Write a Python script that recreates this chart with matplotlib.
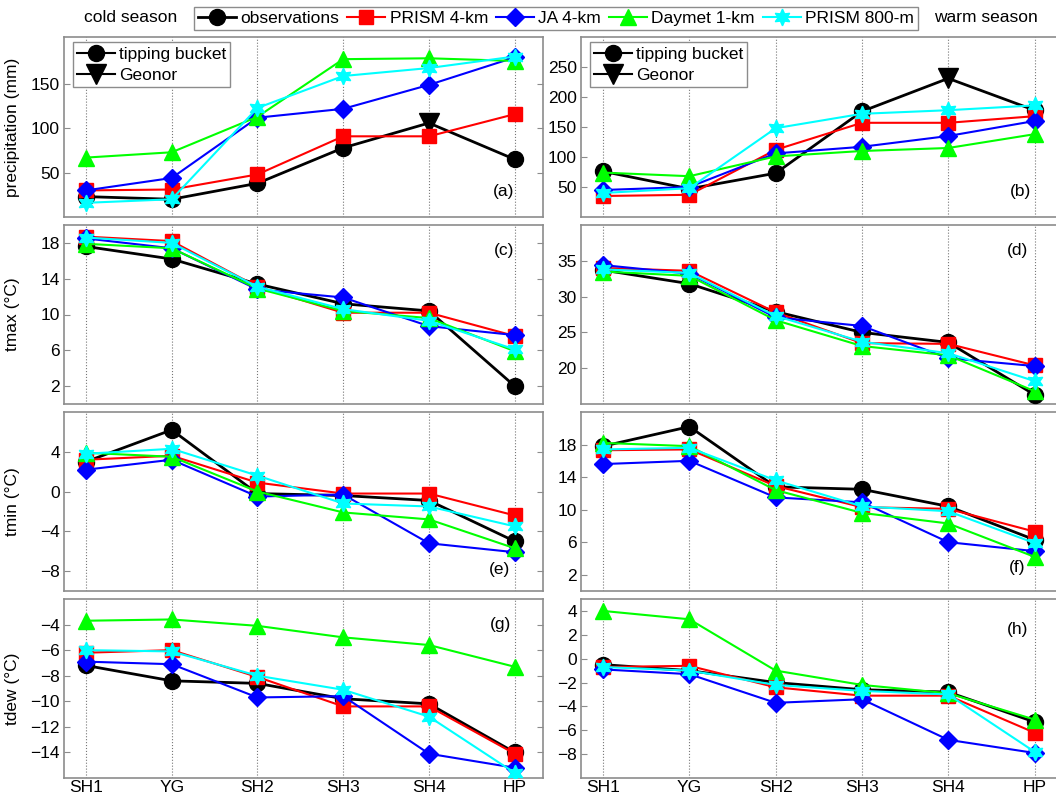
import matplotlib
matplotlib.use('Agg')
import matplotlib.pyplot as plt
from matplotlib.lines import Line2D
import numpy as np

plt.rcParams['font.family'] = ['Liberation Sans', 'DejaVu Sans']

# ---------------- data ----------------
stations = ["SH1", "YG", "SH2", "SH3", "SH4", "HP"]
series_names = ["observations", "PRISM 4-km", "JA 4-km", "Daymet 1-km", "PRISM 800-m"]
precip_gauge = ["tipping bucket", "tipping bucket", "tipping bucket",
                "tipping bucket", "Geonor", "tipping bucket"]

# cold season
cold_precip_obs = [23, 20, 38, 78, 106, 65]
cold_precip_prism4 = [30, 31, 48, 91, 91, 116]
cold_precip_ja = [30, 44, 112, 122, 149, 180]
cold_precip_daymet = [67, 73, 113, 178, 179, 176]
cold_precip_prism800 = [16, 20, 123, 159, 168, 181]

cold_tmax_obs = [17.6, 16.2, 13.4, 11.2, 10.4, 2.0]
cold_tmax_prism4 = [18.7, 18.2, 13.1, 10.2, 10.2, 7.6]
cold_tmax_ja = [18.5, 17.4, 12.8, 11.9, 8.7, 7.7]
cold_tmax_daymet = [17.9, 17.4, 12.9, 10.4, 9.6, 5.9]
cold_tmax_prism800 = [18.6, 18.0, 13.1, 10.6, 9.3, 6.1]

cold_tmin_obs = [3.0, 6.2, -0.2, -0.4, -0.9, -5.0]
cold_tmin_prism4 = [3.2, 3.6, 0.9, -0.2, -0.2, -2.4]
cold_tmin_ja = [2.2, 3.2, -0.5, -0.3, -5.2, -6.1]
cold_tmin_daymet = [3.9, 3.5, 0.0, -2.1, -2.8, -5.7]
cold_tmin_prism800 = [3.8, 4.3, 1.6, -1.2, -1.5, -3.5]

cold_tdew_obs = [-7.2, -8.4, -8.6, -9.8, -10.2, -14.0]
cold_tdew_prism4 = [-6.2, -6.0, -8.1, -10.4, -10.4, -14.1]
cold_tdew_ja = [-6.9, -7.1, -9.7, -9.6, -14.1, -15.2]
cold_tdew_daymet = [-3.7, -3.6, -4.1, -5.0, -5.6, -7.3]
cold_tdew_prism800 = [-6.0, -6.1, -8.0, -9.1, -11.2, -15.6]

# warm season
warm_precip_obs = [76, 47, 73, 176, 231, 178]
warm_precip_prism4 = [35, 37, 112, 157, 157, 168]
warm_precip_ja = [45, 50, 106, 117, 135, 160]
warm_precip_daymet = [74, 68, 101, 110, 115, 138]
warm_precip_prism800 = [40, 48, 148, 172, 178, 186]

warm_tmax_obs = [33.7, 31.8, 27.9, 25.0, 23.6, 16.3]
warm_tmax_prism4 = [34.0, 33.6, 27.8, 23.5, 23.4, 20.4]
warm_tmax_ja = [34.4, 33.2, 27.1, 25.9, 21.4, 20.3]
warm_tmax_daymet = [33.5, 32.9, 26.7, 23.1, 21.8, 16.8]
warm_tmax_prism800 = [33.8, 33.3, 27.3, 23.7, 22.1, 18.2]

warm_tmin_obs = [17.8, 20.2, 12.8, 12.5, 10.4, 6.3]
warm_tmin_prism4 = [17.3, 17.4, 12.9, 10.3, 10.1, 7.3]
warm_tmin_ja = [15.6, 16.0, 11.5, 10.9, 6.0, 4.9]
warm_tmin_daymet = [18.2, 17.8, 12.4, 9.6, 8.3, 4.2]
warm_tmin_prism800 = [17.4, 17.6, 13.6, 10.4, 9.8, 5.9]

warm_tdew_obs = [-0.5, -1.0, -2.0, -2.6, -2.8, -5.3]
warm_tdew_prism4 = [-0.7, -0.6, -2.4, -3.1, -3.1, -6.2]
warm_tdew_ja = [-0.9, -1.3, -3.7, -3.4, -6.8, -7.9]
warm_tdew_daymet = [4.0, 3.3, -1.0, -2.2, -2.9, -5.1]
warm_tdew_prism800 = [-0.7, -1.0, -2.2, -2.7, -3.0, -7.8]

ylabels = ["precipitation (mm)", "tmax (°C)", "tmin (°C)", "tdew (°C)"]
panel_letters = ["(a)", "(b)", "(c)", "(d)", "(e)", "(f)", "(g)", "(h)"]

cold = [
    [cold_precip_obs, cold_precip_prism4, cold_precip_ja, cold_precip_daymet, cold_precip_prism800],
    [cold_tmax_obs, cold_tmax_prism4, cold_tmax_ja, cold_tmax_daymet, cold_tmax_prism800],
    [cold_tmin_obs, cold_tmin_prism4, cold_tmin_ja, cold_tmin_daymet, cold_tmin_prism800],
    [cold_tdew_obs, cold_tdew_prism4, cold_tdew_ja, cold_tdew_daymet, cold_tdew_prism800],
]
warm = [
    [warm_precip_obs, warm_precip_prism4, warm_precip_ja, warm_precip_daymet, warm_precip_prism800],
    [warm_tmax_obs, warm_tmax_prism4, warm_tmax_ja, warm_tmax_daymet, warm_tmax_prism800],
    [warm_tmin_obs, warm_tmin_prism4, warm_tmin_ja, warm_tmin_daymet, warm_tmin_prism800],
    [warm_tdew_obs, warm_tdew_prism4, warm_tdew_ja, warm_tdew_daymet, warm_tdew_prism800],
]

cold_ylims = [(0, 203), (0, 20), (-10, 8), (-16, -2)]
warm_ylims = [(0, 300), (15, 40), (0, 22), (-10, 5)]
cold_yticks = [[50, 100, 150], [2, 6, 10, 14, 18], [-8, -4, 0, 4],
               [-14, -12, -10, -8, -6, -4]]
warm_yticks = [[50, 100, 150, 200, 250], [20, 25, 30, 35], [2, 6, 10, 14, 18],
               [-8, -6, -4, -2, 0, 2, 4]]

# ---------------- style ----------------
colors = ['black', '#ff0000', '#0000ff', '#00ff00', '#00ffff']
markers = ['o', 's', 'D', '^', (6, 1, 0)]
msizes = [11.5, 9.5, 9.5, 11, 12]
lwidths = [2.0, 1.5, 1.5, 1.5, 1.5]
FS = 12.5
GRAY = '#8c8c8c'

W, H = 1056, 796
fig = plt.figure(figsize=(W / 100, H / 100), dpi=100)

col_x = [(64, 543), (581, 1063)]
row_y = [(37, 217), (225, 404), (412, 591), (599, 778)]

x = np.arange(len(stations))
panel_pos = {
    "(a)": (0.918, 0.10, 'bottom'), "(b)": (0.911, 0.10, 'bottom'),
    "(c)": (0.918, 0.90, 'top'), "(d)": (0.905, 0.90, 'top'),
    "(e)": (0.91, 0.08, 'bottom'), "(f)": (0.905, 0.09, 'bottom'),
    "(g)": (0.912, 0.90, 'top'), "(h)": (0.905, 0.87, 'top'),
}

for r in range(4):
    for c in range(2):
        x0, x1 = col_x[c]
        y0, y1 = row_y[r]
        ax = fig.add_axes([x0 / W, 1 - y1 / H, (x1 - x0) / W, (y1 - y0) / H])
        data = cold[r] if c == 0 else warm[r]
        for k, vals in enumerate(data):
            if r == 0 and k == 0:
                ax.plot(x, vals, color=colors[k], lw=lwidths[k], zorder=3)
                v = np.array(vals)
                tb = np.array([g == "tipping bucket" for g in precip_gauge])
                ax.plot(x[tb], v[tb], ls='none', marker='o', ms=msizes[0],
                        color='black', zorder=3)
                ax.plot(x[~tb], v[~tb], ls='none', marker='v', ms=14,
                        color='black', zorder=3)
            else:
                ax.plot(x, vals, color=colors[k], lw=lwidths[k], marker=markers[k],
                        ms=msizes[k], mec=colors[k], mfc=colors[k], zorder=3 + k * 0.1)
        ax.set_xlim(-0.256, 5.33)
        ax.set_ylim(*(cold_ylims[r] if c == 0 else warm_ylims[r]))
        ax.set_yticks(cold_yticks[r] if c == 0 else warm_yticks[r])
        ax.set_xticks(x)
        if r == 3:
            ax.set_xticklabels(stations, fontsize=FS)
        else:
            ax.set_xticklabels([])
        ax.tick_params(axis='both', direction='in', length=4, width=0.8,
                       color=GRAY, labelsize=FS, top=True, right=True, pad=3)
        ax.tick_params(axis='x', length=0, pad=1.5)
        for s in ax.spines.values():
            s.set_color(GRAY)
            s.set_linewidth(1.2)
        ax.grid(axis='x', ls=':', color='#777777', lw=0.8, zorder=0)
        ax.set_axisbelow(True)
        if c == 0:
            ax.set_ylabel(ylabels[r], fontsize=FS)
            ax.yaxis.set_label_coords(-0.092, 0.5)
        letter = panel_letters[r * 2 + c]
        px, py, va = panel_pos[letter]
        ax.text(px, py, letter, transform=ax.transAxes, fontsize=FS,
                ha='center', va=va)
        if r == 0:
            hs = [Line2D([], [], color='black', lw=1.5, marker='o', ms=msizes[0]),
                  Line2D([], [], color='black', lw=1.5, marker='v', ms=14)]
            leg = ax.legend(hs, ["tipping bucket", "Geonor"], loc='upper left',
                            bbox_to_anchor=(0.018, 0.97), fontsize=FS, fancybox=False,
                            edgecolor=GRAY, framealpha=1, handlelength=2.2,
                            handletextpad=0.2, borderpad=0.25, labelspacing=0.35,
                            borderaxespad=0.0)
            leg.get_frame().set_linewidth(1.0)

# top legend
handles = [Line2D([], [], color=colors[k], lw=lwidths[k], marker=markers[k],
                  ms=msizes[k], mec=colors[k], mfc=colors[k]) for k in range(5)]
tleg = fig.legend(handles, series_names, loc='center', ncol=5,
                  bbox_to_anchor=(556 / W, 1 - 18.5 / H), fontsize=FS,
                  fancybox=False, edgecolor=GRAY, framealpha=1,
                  handlelength=2.2, handletextpad=0.25, columnspacing=0.45,
                  borderpad=0.25)
tleg.get_frame().set_linewidth(1.0)

fig.text(131 / W, 1 - 17 / H, "cold season", fontsize=FS, ha='center', va='center')
fig.text(986 / W, 1 - 17 / H, "warm season", fontsize=FS, ha='center', va='center')

fig.savefig('out.png', dpi=100)
